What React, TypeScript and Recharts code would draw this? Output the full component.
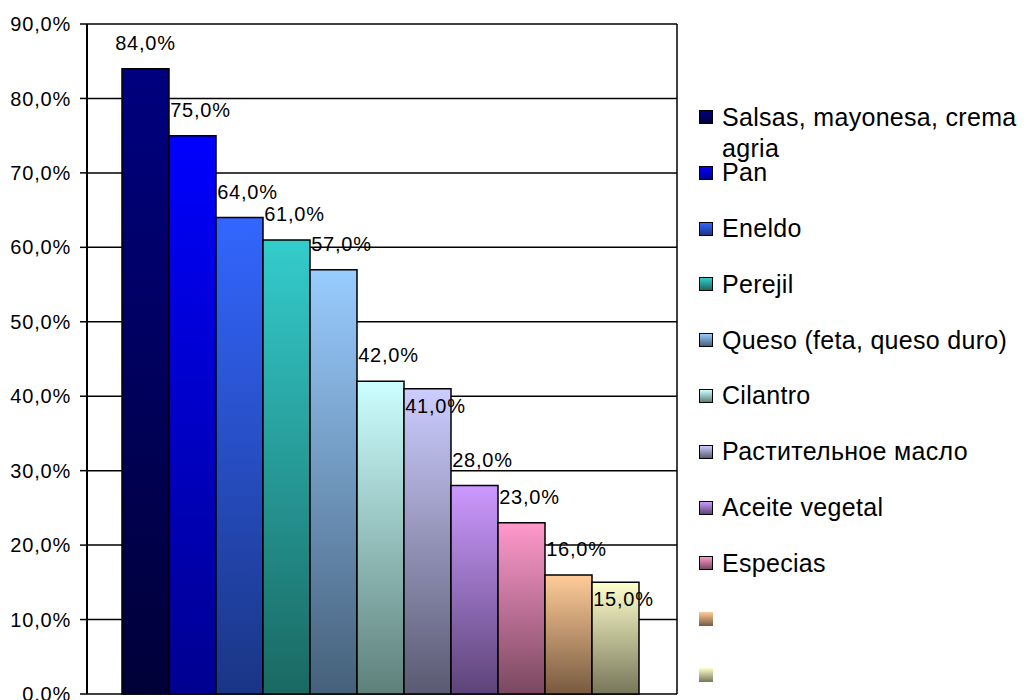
import { Bar, BarChart, CartesianGrid, Legend, XAxis, YAxis } from 'recharts';

const SERIES_NAMES = [
  'Salsas, mayonesa, crema agria',
  'Pan',
  'Eneldo',
  'Perejil',
  'Queso (feta, queso duro)',
  'Cilantro',
  'Растительное масло',
  'Aceite vegetal',
  'Especias',
  '',
  '',
];
const SERIES_VALUES = [84, 75, 64, 61, 57, 42, 41, 28, 23, 16, 15];
const Y_TICKS = [0, 10, 20, 30, 40, 50, 60, 70, 80, 90];

const TOP_COLORS = [
  '#000080', '#0000FF', '#3366FF', '#33CCCC', '#99CCFF', '#CCFFFF',
  '#CCCCFF', '#CC99FF', '#FF99CC', '#FFCC99', '#FFFFCC',
];
const BOTTOM_COLORS = [
  '#000038', '#000090', '#1A3585', '#1A6862', '#45607A', '#5E807A',
  '#5A5A72', '#5C4478', '#7A4860', '#785A40', '#76765A',
];

const W = 1029;
const H = 700;
const PLOT_LEFT = 87;
const PLOT_RIGHT = 677;
const FONT = '"Liberation Sans", Arial, sans-serif';

const row: Record<string, string | number> = { name: '' };
SERIES_VALUES.forEach((v, i) => {
  row[`s${i}`] = v;
});
const chartData = [row];

const fmt = (v: number) => `${v.toFixed(1).replace('.', ',')}%`;

// labels sit above the bar; if one would collide with the previous label it drops inside the bar
const ABOVE = 26;
const INSIDE = 17;
function placedLabelY(i: number, topOf: (j: number) => number): number {
  const above = topOf(i) - ABOVE;
  if (i === 0) return above;
  const prev = placedLabelY(i - 1, topOf);
  return Math.abs(above - prev) < 20 ? topOf(i) + INSIDE : above;
}

function BarLabel(props: any) {
  const { x, y, width, height, series } = props;
  const v = SERIES_VALUES[series];
  const pxPerUnit = height / v;
  const topOf = (j: number) => y + (v - SERIES_VALUES[j]) * pxPerUnit;
  const cy = placedLabelY(series, topOf);
  return (
    <text
      x={x + width / 2 + (series === 0 ? 0 : 8)}
      y={cy}
      textAnchor="middle"
      dominantBaseline="central"
      fontFamily={FONT}
      fontSize={20}
      letterSpacing={0.8}
      fill="#000"
    >
      {fmt(v)}
    </text>
  );
}

function LegendContent() {
  return (
    <div style={{ width: 330, fontFamily: FONT, color: '#000' }}>
      {SERIES_NAMES.map((n, i) => (
        <div key={i} style={{ height: 55.8, display: 'flex', alignItems: 'flex-start' }}>
          <span
            style={{
              flex: 'none',
              width: 14,
              height: 14,
              marginTop: 8.5,
              boxSizing: 'border-box',
              border: n ? '1.5px solid #000' : 'none',
              background: `linear-gradient(${TOP_COLORS[i]}, ${BOTTOM_COLORS[i]})`,
            }}
          />
          <span style={{ marginLeft: 9, fontSize: 25, lineHeight: '31px', width: 300, letterSpacing: 0.3 }}>
            {n}
          </span>
        </div>
      ))}
    </div>
  );
}

export default function App() {
  return (
    <div style={{ position: 'absolute', left: 0, top: 0, width: W, height: H, background: '#fff' }}>
      <BarChart
        width={W}
        height={H}
        data={chartData}
        margin={{ top: 24, right: W - PLOT_RIGHT, bottom: 6, left: 0 }}
        barCategoryGap={35}
        barGap={0}
      >
        <defs>
          {TOP_COLORS.map((c, i) => (
            <linearGradient key={i} id={`grad-${i}`} x1="0" y1="0" x2="0" y2="1">
              <stop offset="0%" stopColor={c} />
              <stop offset="100%" stopColor={BOTTOM_COLORS[i]} />
            </linearGradient>
          ))}
        </defs>
        <CartesianGrid
          stroke="#000"
          strokeWidth={1.5}
          verticalPoints={[PLOT_RIGHT]}
          fill="#fff"
        />
        <XAxis
          dataKey="name"
          tick={false}
          tickLine={false}
          height={0}
          axisLine={{ stroke: '#000', strokeWidth: 2 }}
        />
        <YAxis
          width={PLOT_LEFT}
          domain={[0, 90]}
          ticks={Y_TICKS}
          interval={0}
          tickSize={7}
          tickMargin={9}
          tickFormatter={fmt}
          axisLine={{ stroke: '#000', strokeWidth: 2 }}
          tickLine={{ stroke: '#000', strokeWidth: 1.5 }}
          tick={{ fill: '#000', fontSize: 20, fontFamily: FONT, letterSpacing: 0.8 }}
        />
        <Legend
          layout="vertical"
          align="center"
          verticalAlign="middle"
          content={() => <LegendContent />}
          wrapperStyle={{ left: 699, top: 101.5, width: 330, height: 620 }}
        />
        {SERIES_NAMES.map((n, i) => (
          <Bar
            key={i}
            dataKey={`s${i}`}
            name={n || ' '}
            fill={`url(#grad-${i})`}
            stroke="#000"
            strokeWidth={1.5}
            isAnimationActive={false}
            label={<BarLabel series={i} />}
          />
        ))}
      </BarChart>
    </div>
  );
}
